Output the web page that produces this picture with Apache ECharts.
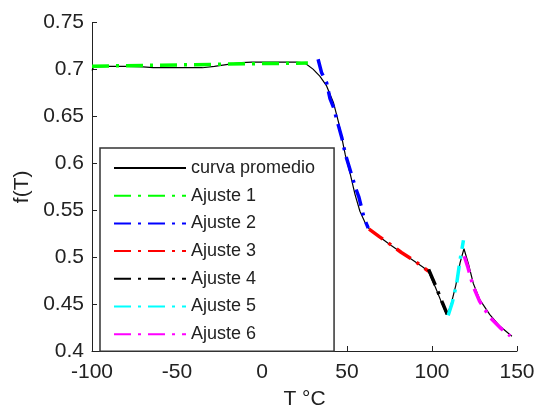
<!DOCTYPE html>
<html>
<head>
<meta charset="utf-8">
<script src="https://cdn.jsdelivr.net/npm/echarts@6/dist/echarts.min.js"></script>
<style>html,body{margin:0;padding:0;background:#fff}#c{width:539px;height:415px}</style>
</head>
<body>
<div id="c"></div>
<script>
// Tick labels / axes
const xTicks = [-100, -50, 0, 50, 100, 150];
const yTicks = [0.4, 0.45, 0.5, 0.55, 0.6, 0.65, 0.7, 0.75];
const seriesNames = ['curva promedio', 'Ajuste 1', 'Ajuste 2', 'Ajuste 3', 'Ajuste 4', 'Ajuste 5', 'Ajuste 6'];

// curva promedio [T, f(T)]
const curvaPromedio = [
  [-100, 0.699], [-99, 0.703], [-90, 0.7035], [-80, 0.7035], [-70, 0.703], [-64, 0.7022], [-55, 0.702],
  [-45, 0.702], [-35, 0.702], [-28, 0.7035], [-20, 0.7055], [-12, 0.7075], [-6, 0.708],
  [0, 0.708], [10, 0.708], [20, 0.708], [25, 0.7072], [30, 0.7005], [34, 0.693],
  [38, 0.6826], [42, 0.665], [45, 0.644], [47, 0.627], [49, 0.609], [52, 0.588],
  [54.7, 0.567], [57.6, 0.549], [60.6, 0.537], [63.5, 0.529], [70, 0.5205], [76, 0.5124],
  [82, 0.505], [89, 0.4966], [95, 0.489], [98, 0.4843], [102, 0.468], [106, 0.450],
  [108.6, 0.4387], [111, 0.448], [114, 0.470], [116.5, 0.494], [118.8, 0.509],
  [121.4, 0.493], [124.3, 0.472], [128.2, 0.4545], [134, 0.4387], [140, 0.4263], [147, 0.4158]
];
const ajuste1 = [[-100, 0.7037], [-50, 0.7050], [0, 0.7064], [27, 0.7070]];
const ajuste2 = [[33, 0.711], [35, 0.697], [38, 0.686], [40, 0.669], [42, 0.660], [45, 0.640], [47, 0.627],
  [49, 0.610], [51, 0.598], [55, 0.574], [57, 0.564], [60, 0.542], [62.5, 0.531]];
const ajuste3 = [[63, 0.530], [69, 0.522], [76, 0.513], [82, 0.505], [89, 0.497], [95, 0.489], [98, 0.485]];
const ajuste4 = [[98, 0.487], [102, 0.470], [106, 0.452], [109, 0.439]];
const ajuste5 = [[109.5, 0.438], [112, 0.452], [114.5, 0.472], [116.5, 0.497], [118.5, 0.518]];
const ajuste6 = [[119, 0.501], [121, 0.490], [124, 0.470], [128, 0.453], [134, 0.436], [140, 0.425], [146, 0.416]];

const fitColors = ['#00ff00', '#0000ff', '#ff0000', '#000000', '#00ffff', '#ff00ff'];
const fits = [ajuste1, ajuste2, ajuste3, ajuste4, ajuste5, ajuste6];

const font = 'Liberation Sans, Arial, sans-serif';
const series = [{
  name: seriesNames[0], type: 'line', data: curvaPromedio, showSymbol: false, symbol: 'none',
  lineStyle: { color: '#000', width: 1.2 }, itemStyle: { color: '#000' }, z: 2, animation: false
}];
fits.forEach((d, i) => {
  series.push({
    name: seriesNames[i + 1], type: 'line', data: d, showSymbol: false, symbol: 'none',
    lineStyle: { color: fitColors[i], width: 3.5, type: [17, 7, 3, 7] },
    itemStyle: { color: fitColors[i] }, z: 3, animation: false
  });
});

const chart = echarts.init(document.getElementById('c'), null, { renderer: 'canvas' });
chart.setOption({
  animation: false,
  backgroundColor: '#fff',
  grid: { left: 92, right: 22, top: 22.7, bottom: 60, containLabel: false },
  xAxis: {
    type: 'value', min: xTicks[0], max: xTicks[xTicks.length - 1], interval: 50,
    name: 'T °C', nameLocation: 'middle', nameGap: 38,
    nameTextStyle: { fontFamily: font, fontSize: 21, color: '#222' },
    axisLine: { onZero: false, lineStyle: { color: '#222', width: 1 } },
    axisTick: { inside: true, length: 5, lineStyle: { color: '#222' } },
    axisLabel: { fontFamily: font, fontSize: 21, color: '#222', margin: 11 },
    splitLine: { show: false }
  },
  yAxis: {
    type: 'value', min: yTicks[0], max: yTicks[yTicks.length - 1], interval: 0.05,
    name: 'f(T)', nameLocation: 'middle', nameGap: 58, nameRotate: 90,
    nameTextStyle: { fontFamily: font, fontSize: 21, color: '#222' },
    axisLine: { show: true, onZero: false, lineStyle: { color: '#222', width: 1 } },
    axisTick: { show: true, inside: true, length: 5, lineStyle: { color: '#222' } },
    axisLabel: { fontFamily: font, fontSize: 21, color: '#222', margin: 8,
      formatter: v => String(+v.toFixed(2)) },
    splitLine: { show: false }
  },
  legend: {
    orient: 'vertical', left: 100, top: 148,
    data: seriesNames,
    itemWidth: 72, itemHeight: 14, itemGap: 9.7,
    padding: [11, 19, 8, 13],
    borderColor: '#333', borderWidth: 1.5, backgroundColor: '#fff',
    itemStyle: { opacity: 0 },
    textStyle: { fontFamily: font, fontSize: 18, color: '#222' },
    selectedMode: false
  },
  series: series
});
</script>
</body>
</html>
